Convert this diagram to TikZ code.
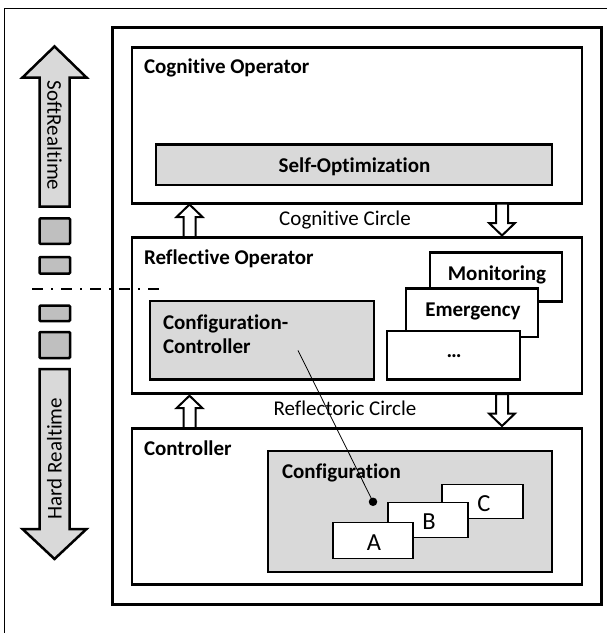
\documentclass[tikz,border=0pt]{standalone}
\usepackage{fontspec}
\setmainfont{Carlito}[Ligatures=NoCommon]
\definecolor{boxgray}{HTML}{D9D9D9}
\definecolor{sqgray}{HTML}{BFBFBF}
\begin{document}
\begin{tikzpicture}[x=1pt,y=-1pt,
  every node/.style={font=\fontsize{21}{25}\selectfont, inner sep=0pt, outer sep=0pt},
  thickbox/.style={draw, line width=3pt, rectangle, anchor=north west},
  layerbox/.style={draw, line width=2.6pt, fill=white, rectangle, anchor=north west},
  graybox/.style={draw, line width=2.6pt, fill=boxgray, rectangle, anchor=north west},
  cfgbox/.style={draw, line width=1.3pt, fill=white, rectangle, anchor=north west},
  title/.style={font=\fontsize{21}{25}\selectfont\bfseries, anchor=base west},
  ctitle/.style={font=\fontsize{21}{25}\selectfont\bfseries, anchor=base},
  plain/.style={font=\fontsize{21}{25}\selectfont, anchor=base},
  letter/.style={font=\fontsize{24.5}{28}\selectfont, anchor=base},
  hollow/.style={draw, line width=2pt, fill=white, line join=miter},
  bigarrow/.style={draw, line width=2.5pt, fill=boxgray, line join=miter},
  sq/.style={draw, line width=2.5pt, fill=sqgray, rectangle, rounded corners=1pt, anchor=north west},
  uparrow/.pic={\draw[hollow] (-6,0) -- (-6,-20) -- (-13,-20) -- (0,-32.5) -- (13,-20) -- (6,-20) -- (6,0) -- cycle;},
  downarrow/.pic={\draw[hollow] (-6,0) -- (-6,19.5) -- (-13,19.5) -- (0,32) -- (13,19.5) -- (6,19.5) -- (6,0) -- cycle;},
]
\useasboundingbox (0,0) rectangle (607,633);

% outer frame (right and bottom edges lie outside the picture)
\draw[line width=0.9pt] (4,633) -- (4,8.3) -- (607,8.3);

% main frame
\node[thickbox, minimum width=489pt, minimum height=576.5pt] (main) at (112,27.7) {};

% cognitive operator
\node[layerbox, minimum width=450pt, minimum height=155.5pt] (cog) at (132,47.7) {};
\node[title] (cogt) at (144,73.5) {Cognitive Operator};
\node[graybox, minimum width=396pt, minimum height=40.5pt] (selfopt) at (156,144.5) {};
\node[ctitle] (selfoptt) at (354.5,172.5) {Self-Optimization};

% reflective operator
\node[layerbox, minimum width=450pt, minimum height=156pt] (ref) at (132,237.5) {};
\node[title] (reft) at (144,264.5) {Reflective Operator};
\node[graybox, minimum width=224pt, minimum height=78.7pt] (cc) at (150,300.8) {};
\node[title] (cct1) at (163,329) {Configuration-};
\node[title] (cct2) at (163,353) {Controller};
\node[layerbox, minimum width=132pt, minimum height=49pt] (mon) at (430,252.7) {};
\node[ctitle] (mont) at (497,280) {Monitoring};
\node[layerbox, minimum width=132pt, minimum height=48.3pt] (emg) at (406,288.7) {};
\node[ctitle] (emgt) at (473,316) {Emergency};
\node[layerbox, minimum width=133pt, minimum height=48.5pt] (etc) at (387,331) {};
\node[ctitle] (etct) at (454,357) {…};

% controller
\node[layerbox, minimum width=450pt, minimum height=155.5pt] (ctrl) at (132,428.7) {};
\node[title] (ctrlt) at (144,455) {Controller};
\node[graybox, minimum width=284pt, minimum height=121pt] (cfg) at (268,451) {};
\node[title] (cfgt) at (282,478) {Configuration};
\node[cfgbox, minimum width=81pt, minimum height=34.3pt] (cfgC) at (442,484.5) {};
\node[letter] (cfgCt) at (484,511.5) {C};
\node[cfgbox, minimum width=80pt, minimum height=35.2pt] (cfgB) at (388,502.6) {};
\node[letter] (cfgBt) at (429,529.3) {B};
\node[cfgbox, minimum width=80pt, minimum height=35.5pt] (cfgA) at (333,522.8) {};
\node[letter] (cfgAt) at (374,550.3) {A};

% circle labels and hollow arrows
\node[plain] (cogc) at (345,225.5) {Cognitive Circle};
\node[plain] (refc) at (345,415.5) {Reflectoric Circle};
\pic at (189.5,237) {uparrow};
\pic at (189.5,428.2) {uparrow};
\pic at (502,203.5) {downarrow};
\pic at (502,394) {downarrow};

% configuration controller link
\node[circle, fill=black, minimum size=8.5pt] (dot) at (373,501.8) {};
\coordinate (ccstart) at (298,350.4);
\draw[line width=0.8pt] (ccstart) -- (dot.center);

% left side: realtime arrows
\draw[bigarrow] (39.5,206.7) -- (39.5,77.5) -- (22.5,77.5) -- (54.5,46.4) -- (86.5,77.5) -- (69.7,77.5) -- (69.7,206.7) -- cycle;
\node[rotate=-90] (soft) at (54.5,135.5) {SoftRealtime};
\draw[bigarrow] (39.5,369) -- (69.7,369) -- (69.7,529) -- (86.5,529) -- (54.5,559) -- (22.5,529) -- (39.5,529) -- cycle;
\node[rotate=90] (hard) at (54.5,458.5) {Hard Realtime};

\node[sq, minimum width=30.5pt, minimum height=25.4pt] (sq1) at (39.5,218.4) {};
\node[sq, minimum width=30.5pt, minimum height=16.7pt] (sq2) at (39.5,257) {};
\node[sq, minimum width=30.5pt, minimum height=15.4pt] (sq3) at (39.5,305.6) {};
\node[sq, minimum width=30.5pt, minimum height=26pt] (sq4) at (39.5,332) {};

\coordinate (dashL) at (32,289);
\coordinate (dashR) at (161,289);
\draw[line width=1.5pt, dash pattern=on 11pt off 8pt on 2pt off 8pt] (dashL) -- (dashR);
\end{tikzpicture}
\end{document}
